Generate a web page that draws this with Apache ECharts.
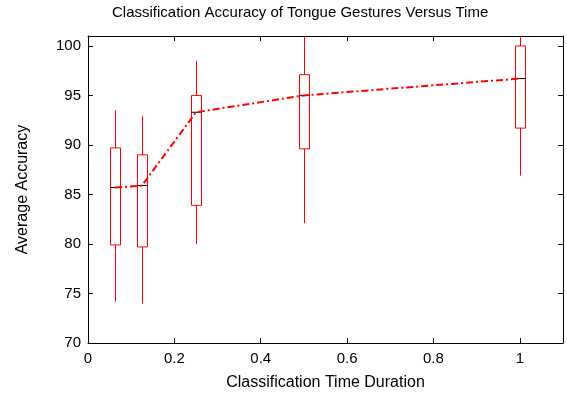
<!DOCTYPE html>
<html>
<head>
<meta charset="utf-8">
<script src="https://cdn.jsdelivr.net/npm/echarts@6/dist/echarts.min.js"></script>
<style>
html,body{margin:0;padding:0;background:#fff;}
#chart{width:567px;height:398px;}
</style>
</head>
<body>
<div id="chart"></div>
<script>
// Classification time durations (x positions)
var durations = [0.0625, 0.125, 0.25, 0.5, 1.0];
// Box statistics per duration
var whiskerLow  = [74.2, 74.0, 80.0, 82.1, 86.9];
var boxLow      = [79.9, 79.7, 83.9, 89.6, 91.7];
var medians     = [85.7, 85.9, 93.3, 95.0, 96.7];
var boxHigh     = [89.7, 89.0, 95.0, 97.1, 100.0];
var whiskerHigh = [93.5, 92.9, 98.5, 101.5, 101.5];
var xTicks = [0, 0.2, 0.4, 0.6, 0.8, 1];
var yTicks = [70, 75, 80, 85, 90, 95, 100];

var boxData = durations.map(function (d, i) {
  return [d, whiskerLow[i], boxLow[i], medians[i], boxHigh[i], whiskerHigh[i]];
});
var lineData = durations.map(function (d, i) { return [d, medians[i]]; });

var FONT = 'Liberation Sans, Arial, Helvetica, sans-serif';
var chart = echarts.init(document.getElementById('chart'), null, {renderer: 'canvas'});

function renderBox(params, api) {
  var x = api.value(0);
  var pLow = api.coord([x, api.value(1)]);
  var pQ1 = api.coord([x, api.value(2)]);
  var pMed = api.coord([x, api.value(3)]);
  var pQ3 = api.coord([x, api.value(4)]);
  var pHigh = api.coord([x, api.value(5)]);
  var hw = 5;
  var cx = Math.round(pMed[0]) + 0.5;
  var red = '#ff0000';
  return {
    type: 'group',
    children: [
      {type: 'line', shape: {x1: cx, y1: pQ3[1], x2: cx, y2: pHigh[1]}, style: {stroke: red, lineWidth: 1}},
      {type: 'line', shape: {x1: cx, y1: pQ1[1], x2: cx, y2: pLow[1]}, style: {stroke: red, lineWidth: 1}},
      {type: 'rect', shape: {x: cx - hw, y: pQ3[1], width: hw * 2, height: pQ1[1] - pQ3[1]}, style: {stroke: red, fill: 'none', lineWidth: 1}},
      {type: 'line', shape: {x1: cx - hw, y1: pMed[1], x2: cx + hw, y2: pMed[1]}, style: {stroke: '#000', lineWidth: 1}}
    ]
  };
}

var option = {
  animation: false,
  backgroundColor: '#fff',
  title: {
    text: 'Classification Accuracy of Tongue Gestures Versus Time',
    left: 107, top: 0,
    textStyle: {fontFamily: FONT, fontSize: 15, fontWeight: 'normal', color: '#000'}
  },
  grid: {left: 88, right: 4, top: 36, bottom: 55},
  xAxis: [{
    type: 'value', min: 0, max: 1.1, interval: 0.2,
    name: 'Classification Time Duration', nameLocation: 'middle', nameGap: 32,
    nameTextStyle: {fontFamily: FONT, fontSize: 16, color: '#000'},
    axisLine: {show: true, onZero: false, lineStyle: {color: '#000', width: 1}},
    axisTick: {show: true, inside: true, length: 5, lineStyle: {color: '#000'}},
    axisLabel: {
      fontFamily: FONT, fontSize: 15, color: '#000', margin: 8,
      formatter: function (v) {
        for (var i = 0; i < xTicks.length; i++) if (Math.abs(v - xTicks[i]) < 1e-6) return String(xTicks[i]);
        return '';
      }
    },
    splitLine: {show: false}
  }, {
    type: 'value', position: 'top', min: 0, max: 1.1, interval: 0.2,
    axisLine: {show: true, onZero: false, lineStyle: {color: '#000', width: 1}},
    axisTick: {show: true, inside: true, length: 5, lineStyle: {color: '#000'}},
    axisLabel: {show: false}, splitLine: {show: false}
  }],
  yAxis: [{
    type: 'value', min: 70, max: 101, interval: 5,
    name: 'Average Accuracy', nameLocation: 'middle', nameGap: 57,
    nameTextStyle: {fontFamily: FONT, fontSize: 16, color: '#000'},
    axisLine: {show: true, onZero: false, lineStyle: {color: '#000', width: 1}},
    axisTick: {show: true, inside: true, length: 5, lineStyle: {color: '#000'}},
    axisLabel: {
      fontFamily: FONT, fontSize: 15, color: '#000', margin: 7,
      formatter: function (v) { return yTicks.indexOf(Math.round(v * 1000) / 1000) >= 0 ? String(v) : ''; }
    },
    splitLine: {show: false}
  }, {
    type: 'value', position: 'right', min: 70, max: 101, interval: 5,
    axisLine: {show: true, onZero: false, lineStyle: {color: '#000', width: 1}},
    axisTick: {show: true, inside: true, length: 5, lineStyle: {color: '#000'}},
    axisLabel: {show: false}, splitLine: {show: false}
  }],
  series: [{
    type: 'custom',
    renderItem: renderBox,
    clip: true,
    data: boxData,
    encode: {x: 0, y: [1, 2, 3, 4, 5]},
    z: 2
  }, {
    type: 'line',
    data: lineData,
    symbol: 'none',
    lineStyle: {color: '#ff0000', width: 2, type: [7, 3, 2, 3]},
    z: 3
  }]
};
chart.setOption(option);
</script>
</body>
</html>
